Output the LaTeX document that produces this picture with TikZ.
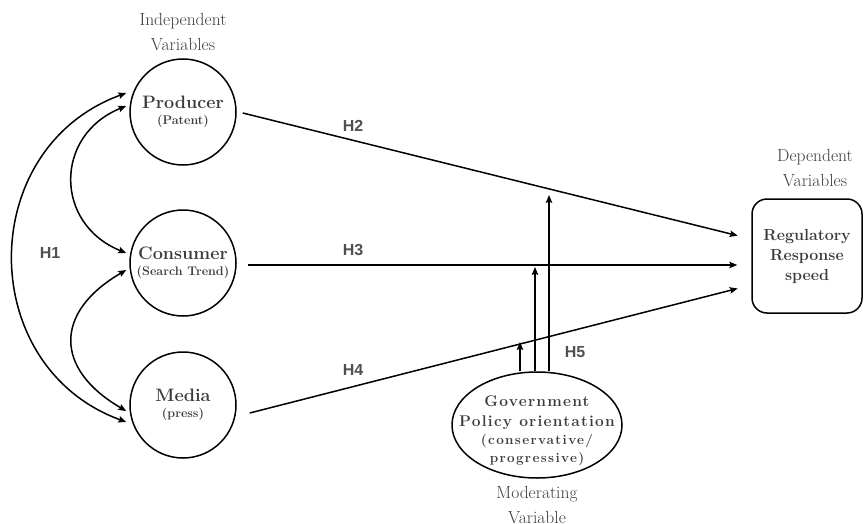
\documentclass[tikz,border=0pt]{standalone}
\usepackage{fontspec}
\setsansfont{Liberation Sans}
\usetikzlibrary{arrows.meta,shapes.geometric}
\definecolor{txt}{HTML}{3C3C3C}
\definecolor{hcol}{HTML}{505050}
\newfontfamily\spaced[LetterSpace=8]{Latin Modern Roman}
\newfontfamily\spacedb[LetterSpace=10]{Latin Modern Roman}
\begin{document}
\begin{tikzpicture}[x=1pt,y=-1pt,
  tip/.tip={Stealth[length=8pt,width=6.5pt,inset=1.5pt]},
  var/.style={circle,draw,line width=1.5pt,minimum size=106pt,inner sep=0pt,align=center,text=txt,
    font=\fontsize{12.5}{16}\selectfont\bfseries},
  conn/.style={line width=1.5pt,-tip},
  both/.style={line width=1.5pt,tip-tip},
  hlab/.style={font=\sffamily\bfseries\fontsize{16}{16}\selectfont,text=hcol},
  captxt/.style={font=\fontsize{17.5}{25}\selectfont,text=txt,align=center},
]
\useasboundingbox (0,0) rectangle (864,524);

% variables
\node[var] (prod) at (183,112) {{\fontsize{18}{16}\selectfont Producer}\\{(Patent)}};
\node[var] (cons) at (183,263) {{\fontsize{18}{16}\selectfont Consumer}\\{(Search Trend)}};
\node[var] (media) at (183,405) {{\fontsize{18}{16}\selectfont Media}\\{(press)}};

\node[draw,line width=1.5pt,rounded corners=15pt,minimum width=110pt,minimum height=114pt,inner sep=0pt,align=center,text=txt,
  font=\fontsize{16}{20}\selectfont\bfseries] (dep) at (807,256) {Regulatory\\Response\\speed};

\node[ellipse,draw,line width=1.5pt,minimum width=170pt,minimum height=106pt,inner sep=0pt] (gov) at (537,425) {};
\node[align=center,text=txt,inner sep=0pt,font=\fontsize{13.5}{18}\selectfont\bfseries] (govtext) at ([yshift=-6pt]gov.center)
  {{\spaced\bfseries\fontsize{15.5}{18}\selectfont Government}\\[2pt]
   {\spaced\bfseries\fontsize{15.5}{18}\selectfont Policy orientation}\\
   {\spacedb\bfseries (conservative/}\\
   {\spacedb\bfseries progressive)}};

% captions
\node[captxt] (indep) at (183,32) {Independent\\Variables};
\node[captxt] (depcap) at (815,168) {Dependent\\Variables};
\node[captxt] (modcap) at (537,505) {Moderating\\Variable};

% main paths
\draw[conn,shorten >=14pt] ([xshift=6pt,yshift=-1pt]prod.east) -- ([yshift=17pt]dep.west);
\draw[conn,shorten >=14pt] ([xshift=11pt,yshift=-2pt]cons.east) -- ([yshift=-9pt]dep.west);
\draw[conn,shorten >=14pt] ([xshift=13pt,yshift=-8pt]media.east) -- ([yshift=-29pt]dep.west);

% moderation
\coordinate (m1) at (520,342);
\coordinate (m2) at (535,267);
\coordinate (m3) at (549,195);
\draw[conn] (m1 |- gov.north) -- (m1);
\draw[conn] (m2 |- gov.north) -- (m2);
\draw[conn] (m3 |- gov.north) -- (m3);

% correlations
\draw[both] ([xshift=-3pt,yshift=19pt]prod.west) .. controls (-25,148) and (-25,367) .. ([xshift=-3pt,yshift=-17pt]media.west);
\draw[both] ([xshift=-3pt,yshift=6pt]prod.west) .. controls (54,135) and (54,224) .. ([xshift=-3pt,yshift=10pt]cons.west);
\draw[both] ([xshift=-3pt,yshift=-7pt]cons.west) .. controls (54,312) and (54,369) .. ([xshift=-3pt,yshift=-6pt]media.west);

% hypothesis labels
\node[hlab] (h1) at (50,253) {H1};
\node[hlab] (h2) at (353,126) {H2};
\node[hlab] (h3) at (353,250) {H3};
\node[hlab] (h4) at (353,370) {H4};
\node[hlab] (h5) at (575,352) {H5};
\end{tikzpicture}
\end{document}
